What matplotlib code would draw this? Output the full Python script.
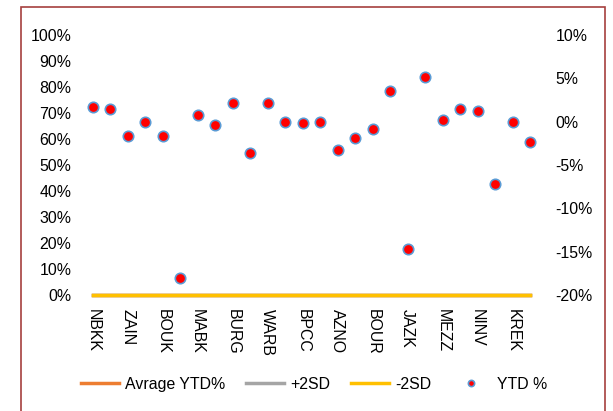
import numpy as np
import matplotlib.pyplot as plt
from matplotlib.patches import Rectangle
from matplotlib.ticker import FuncFormatter

plt.rcParams['font.family'] = ['Liberation Sans', 'DejaVu Sans']
plt.rcParams['font.size'] = 11.4

# 26 stocks, only every other ticker is printed on the axis
shown_labels = ['NBKK', 'ZAIN', 'BOUK', 'MABK', 'BURG', 'WARB', 'BPCC',
                'AZNO', 'BOUR', 'JAZK', 'MEZZ', 'NINV', 'KREK']
ytd = [1.7, 1.5, -1.7, 0.0, -1.7, -18.0, 0.8, -0.4, 2.1, -3.6, 2.1, 0.0, -0.2,
       0.0, -3.3, -1.9, -0.8, 3.5, -14.7, 5.2, 0.2, 1.5, 1.2, -7.2, 0.0, -2.4]
avg_ytd = [0.0] * 26
plus_2sd = [0.0] * 26
minus_2sd = [0.0] * 26

x = np.arange(len(ytd))

fig = plt.figure(figsize=(6.13, 4.11), dpi=100)
fig.patches.append(Rectangle((21/613, -0.05), (605-21)/613, 1.05 - 7/411,
                             transform=fig.transFigure, fill=False,
                             edgecolor='#A6403E', linewidth=1.2))

ax = fig.add_axes([84/613, 1-295/411, (539-84)/613, 260/411])
ax.plot(x, avg_ytd, color='#ED7D31', lw=2.5, label='Avrage YTD%', clip_on=False)
ax.plot(x, plus_2sd, color='#A5A5A5', lw=2.5, label='+2SD', clip_on=False)
ax.plot(x, minus_2sd, color='#FFC000', lw=2.5, label='-2SD', clip_on=False)
ax.set_ylim(0, 1)
ax.set_yticks(np.arange(0, 1.01, 0.1))
ax.yaxis.set_major_formatter(FuncFormatter(lambda v, p: '%d%%' % round(v * 100)))
ax.set_xlim(-0.5, len(ytd) - 0.5)
ax.set_xticks(x[::2])
ax.set_xticklabels(shown_labels, rotation=-90, va='top', ha='center')
ax.tick_params(length=0)
ax.tick_params(axis='x', pad=10)
ax.tick_params(axis='y', pad=9)
for s in ax.spines.values():
    s.set_visible(False)

ax2 = ax.twinx()
ax2.plot(x, np.array(ytd) / 100, 'o', ms=7.5, mfc='#FF0000', mec='#5B9BD5',
         mew=1.2, label='YTD %')
ax2.set_ylim(-0.2, 0.1)
ax2.set_yticks(np.arange(-0.2, 0.101, 0.05))
ax2.yaxis.set_major_formatter(FuncFormatter(lambda v, p: '%d%%' % round(v * 100)))
ax2.tick_params(length=0, pad=12)
for s in ax2.spines.values():
    s.set_visible(False)

h1, l1 = ax.get_legend_handles_labels()
h2, l2 = ax2.get_legend_handles_labels()
fig.legend(h1 + h2, l1 + l2, loc='center', bbox_to_anchor=(314/613, 1-384/411),
           ncol=4, frameon=False, handlelength=2.4, handletextpad=0.4,
           columnspacing=1.3, markerscale=0.6)

fig.savefig('out.png', dpi=100)
